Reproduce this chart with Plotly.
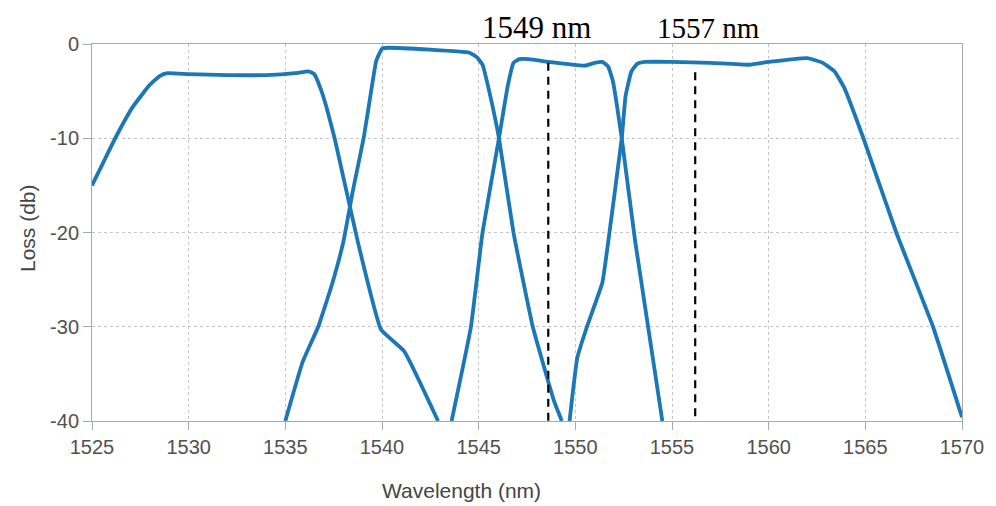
import plotly.graph_objects as go

# Wavelength (nm) / loss (dB) for four channel filters
ch1_x = [1525, 1525.6, 1526.2, 1527.1, 1528.0, 1528.5, 1528.9, 1530, 1532, 1534, 1535.5, 1536.2,
         1536.5, 1536.8, 1537.1, 1537.55, 1538.75, 1539.95, 1541.15, 1542.9]
ch1_y = [-15, -12.5, -10, -6.7, -4.3, -3.4, -3.1, -3.2, -3.3, -3.3, -3.1, -2.9,
         -3.2, -4.6, -6.5, -10, -21, -30.3, -32.6, -40]

ch2_x = [1535.0, 1535.9, 1536.7, 1537.4, 1538.0, 1538.5, 1539.05, 1539.4, 1539.7, 1540.0, 1540.3,
         1542.5, 1544.5, 1544.9, 1545.2, 1545.6, 1546.05, 1546.8, 1547.8, 1548.9, 1549.3]
ch2_y = [-40, -33.7, -30, -25.6, -21, -15.5, -10, -5.5, -1.8, -0.5, -0.4,
         -0.6, -0.9, -1.4, -2.2, -5.5, -10, -20, -30, -37.9, -40]

ch3_x = [1543.6, 1544.6, 1545.2, 1546.05, 1546.5, 1546.8, 1547.1, 1547.6, 1548.6, 1549.5, 1550.5,
         1551.0, 1551.4, 1551.7, 1551.95, 1552.15, 1552.4, 1553.1, 1554.5]
ch3_y = [-40, -30, -20, -10, -4.5, -2.0, -1.6, -1.6, -1.9, -2.1, -2.3,
         -2.0, -1.9, -2.4, -4.0, -6.5, -10, -21, -40]

ch4_x = [1549.7, 1550.1, 1550.6, 1551.4, 1551.7, 1552.4, 1552.6, 1552.9, 1553.2, 1553.6, 1555,
         1557, 1559.0, 1560, 1562.0, 1562.8, 1563.4, 1563.9, 1564.9, 1566.6, 1568.5, 1570]
ch4_y = [-40, -33.3, -30, -25.3, -21, -10, -5.5, -2.9, -2.1, -1.9, -1.9,
         -2.0, -2.2, -1.9, -1.5, -2.0, -2.9, -4.6, -10, -20, -30, -39.6]

marker_wl = [1548.6, 1556.2]
marker_top = [-2.0, -3.0]
marker_labels = ["1549 nm", "1557 nm"]

x_ticks = [1525, 1530, 1535, 1540, 1545, 1550, 1555, 1560, 1565, 1570]
y_ticks = [0, -10, -20, -30, -40]
y_tick_text = ["0", "-10", "-20", "-30", "-40"]

LINE = "#1b77b5"
fig = go.Figure()
for xs, ys in [(ch1_x, ch1_y), (ch2_x, ch2_y), (ch3_x, ch3_y), (ch4_x, ch4_y)]:
    fig.add_trace(go.Scatter(x=xs, y=ys, mode="lines",
                             line=dict(color=LINE, width=3.8, shape="spline", smoothing=0.35),
                             showlegend=False, hoverinfo="x+y"))

for wl, top in zip(marker_wl, marker_top):
    fig.add_trace(go.Scatter(x=[wl, wl], y=[top, -40], mode="lines",
                             line=dict(color="black", width=2.2, dash="8px,6px"),
                             showlegend=False, hoverinfo="skip"))

OFF = 8  # page body margin
W, H = 996, 506
PL, PR, PT, PB = 92, 962, 44, 421  # plot area in page pixels
L, T = PL - OFF, PT - OFF
R, B = W - (PR - OFF), H - (PB - OFF)
pw, ph = PR - PL, PB - PT

def px_x(p):
    return (p - PL) / pw

def px_y(p):
    return (PB - p) / ph

def note(x, y, text, size, family, color, angle=0):
    fig.add_annotation(x=px_x(x), y=px_y(y), xref="paper", yref="paper", text=text,
                       xanchor="center", yanchor="middle", textangle=angle,
                       showarrow=False, font=dict(family=family, size=size, color=color))

SERIF = "Liberation Serif, Times New Roman, serif"
SANS = "Liberation Sans, Arial, sans-serif"
note(536, 28, marker_labels[0], 31, SERIF, "black")
note(708, 28, marker_labels[1], 29, SERIF, "black")
note(461, 490, "Wavelength (nm)", 21, SANS, "#444")
note(28, 228, "Loss (db)", 21, SANS, "#444", angle=-90)

axis_common = dict(showline=True, linecolor="#a8a8a8", linewidth=1, mirror=True,
                   ticks="outside", ticklen=8, tickcolor="#a8a8a8", tickwidth=1,
                   showgrid=True, gridcolor="#c4c4c4", griddash="dot", gridwidth=1,
                   zeroline=False, automargin=False,
                   tickfont=dict(family=SANS, size=20, color="#505050"))

fig.update_xaxes(range=[1525, 1570], tickvals=x_ticks, **axis_common)
fig.update_yaxes(range=[-40, 0], tickvals=y_ticks, ticktext=y_tick_text, **axis_common)

fig.update_layout(width=W, height=H, margin=dict(l=L, r=R, t=T, b=B),
                  plot_bgcolor="white", paper_bgcolor="white")

fig.write_html("out.html")
